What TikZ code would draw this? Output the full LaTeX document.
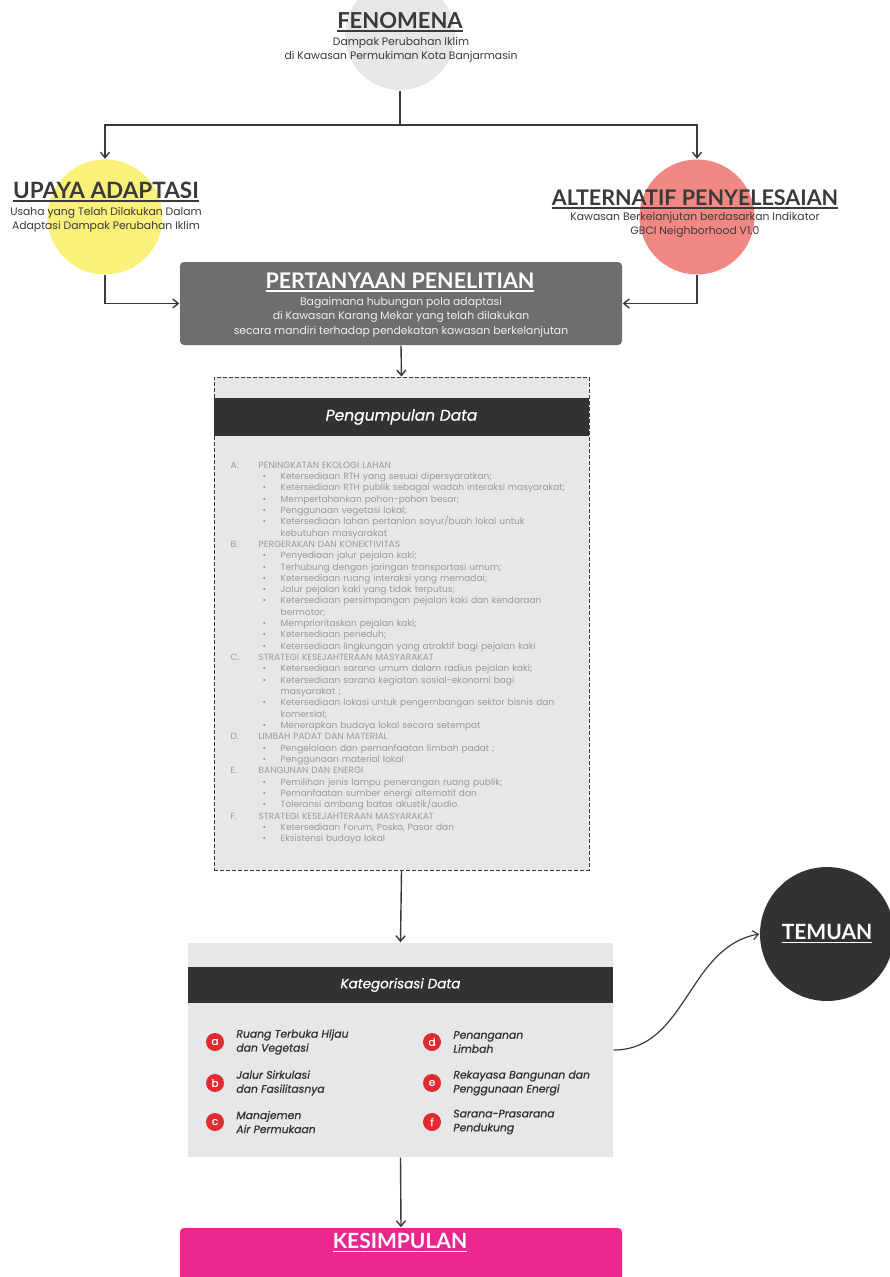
\documentclass[tikz,border=0pt]{standalone}
\usepackage{fontspec}
\setmainfont{Poppins}
\newfontfamily\headfont{Lato}
\newfontfamily\catfont{Poppins}[FakeBold=0.7]
\usetikzlibrary{arrows.meta,positioning}

\definecolor{ink}{HTML}{3A3A3A}
\definecolor{paper}{HTML}{E6E7E8}
\definecolor{slate}{HTML}{6D6E70}
\definecolor{coal}{HTML}{333132}
\definecolor{sun}{HTML}{FAF07A}
\definecolor{coral}{HTML}{F28884}
\definecolor{dotred}{HTML}{E52B32}
\definecolor{rose}{HTML}{EC268F}
\definecolor{fade}{HTML}{999999}

%% underlined headings
\newcommand{\uline}[1]{\setbox0\hbox{#1}\rlap{\rule[-3.5pt]{\wd0}{1.7pt}}\box0}
%% list entries
\newcommand{\grp}[2]{\par\noindent\hbox to 28pt{#1\hfill}#2}
\newcommand{\itm}[1]{\par\noindent\hangindent=50pt\hangafter=1\hspace*{32pt}\hbox to 18pt{\textbullet\hfill}#1}

\tikzset{
  head/.style={inner sep=0, font=\headfont\bfseries\fontsize{21.5}{24}\selectfont},
  subtext/.style={inner sep=0, align=center, font=\fontsize{10.8}{14.2}\selectfont},
  bubble/.style={circle, inner sep=0},
  band/.style={fill=coal, minimum width=#1, minimum height=38pt, inner sep=0,
    text=white, font=\catfont\itshape\fontsize{15.5}{17}\selectfont},
  tagdot/.style={circle, fill=dotred, minimum size=18pt, inner sep=0,
    text=white, font=\catfont\fontsize{10.5}{10}\selectfont},
  tagtext/.style={inner sep=0, align=left, text=ink!85!black,
    font=\catfont\itshape\fontsize{10.8}{14}\selectfont},
}

\begin{document}
\begin{tikzpicture}[x=1pt, y=-1pt, line width=1.4pt, ink,
    >={Straight Barb[length=5.5pt,width=9pt]}]
	\useasboundingbox (0,0) rectangle (890,1277);
	\clip (0,0) rectangle (890,1277);

	%% Fenomena
	\node [bubble, fill=paper, minimum size=110pt] (fen) at (400,35) {};
	\node [head, font=\headfont\bfseries\fontsize{22}{24}\selectfont] (fenT) at (400,22) {\uline{FENOMENA}};
	\node [subtext] (fenS) at (401,50) {Dampak Perubahan Iklim\\di Kawasan Permukiman Kota Banjarmasin};

	%% Upaya adaptasi & alternatif penyelesaian
	\node [bubble, fill=sun, minimum size=115pt] (ada) at (105,217) {};
	\node [head, font=\headfont\bfseries\fontsize{22.5}{24}\selectfont] (adaT) at (106,192) {\uline{UPAYA ADAPTASI}};
	\node [subtext] (adaS) at (106,220) {Usaha yang Telah Dilakukan Dalam\\Adaptasi Dampak Perubahan Iklim};

	\node [bubble, fill=coral, minimum size=115pt] (alt) at (697,217) {};
	\node [head] (altT) at (695,199) {\uline{ALTERNATIF PENYELESAIAN}};
	\node [subtext] (altS) at (695,225) {Kawasan Berkelanjutan berdasarkan Indikator\\GBCI Neighborhood V1.0};

	\coordinate (split) at (400,125);
	\draw (fen.south) -- (split);
	\draw [->] (split) -| (ada.north);
	\draw [->] (split) -| (alt.north);

	%% Pertanyaan penelitian
	\node [fill=slate, rounded corners=4pt, minimum width=442pt, minimum height=83pt] (q) at (401,303.5) {};
	\node [head, text=white] (qT) at (400,282) {\uline{PERTANYAAN PENELITIAN}};
	\node [subtext, text=white!88!slate, font=\fontsize{10.8}{14.5}\selectfont] (qS) at (401,317) {Bagaimana hubungan pola adaptasi\\di Kawasan Karang Mekar yang telah dilakukan\\secara mandiri terhadap pendekatan kawasan berkelanjutan};
	\draw [->] (ada.south) |- (q.west);
	\draw [->] (alt.south) |- (q.east);

	%% Pengumpulan data
	\node [draw=ink, line width=0.9pt, dash pattern=on 4pt off 2pt, fill=paper,
	  minimum width=375pt, minimum height=493pt] (pd) at (401.5,623.5) {};
	\node [band=375pt] (pdH) at (401.5,417) {Pengumpulan Data};
	\draw [->] (q.south) -- (pd.north);
	\node [anchor=north west, text width=356pt, inner sep=0, text=fade,
	  font=\fontsize{9}{11.33}\selectfont] (pdList) at (230,456) {\raggedright
	\grp{A.}{PENINGKATAN EKOLOGI LAHAN}
	\itm{Ketersediaan RTH yang sesuai dipersyaratkan;}
	\itm{Ketersediaan RTH publik sebagai wadah interaksi masyarakat;}
	\itm{Mempertahankan pohon-pohon besar;}
	\itm{Penggunaan vegetasi lokal;}
	\itm{Ketersediaan lahan pertanian sayur/buah lokal untuk\newline kebutuhan masyarakat}
	\grp{B.}{PERGERAKAN DAN KONEKTIVITAS}
	\itm{Penyediaan jalur pejalan kaki;}
	\itm{Terhubung dengan jaringan transportasi umum;}
	\itm{Ketersediaan ruang interaksi yang memadai;}
	\itm{Jalur pejalan kaki yang tidak terputus;}
	\itm{Ketersediaan persimpangan pejalan kaki dan kendaraan\newline bermotor;}
	\itm{Memprioritaskan pejalan kaki;}
	\itm{Ketersediaan peneduh;}
	\itm{Ketersediaan lingkungan yang atraktif bagi pejalan kaki}
	\grp{C.}{STRATEGI KESEJAHTERAAN MASYARAKAT}
	\itm{Ketersediaan sarana umum dalam radius pejalan kaki;}
	\itm{Ketersediaan sarana kegiatan sosial-ekonomi bagi\newline masyarakat ;}
	\itm{Ketersediaan lokasi untuk pengembangan sektor bisnis dan\newline komersial;}
	\itm{Menerapkan budaya lokal secara setempat}
	\grp{D.}{LIMBAH PADAT DAN MATERIAL}
	\itm{Pengelolaan dan pemanfaatan limbah padat ;}
	\itm{Penggunaan material lokal}
	\grp{E.}{BANGUNAN DAN ENERGI}
	\itm{Pemilihan jenis lampu penerangan ruang publik;}
	\itm{Pemanfaatan sumber energi alternatif dan}
	\itm{Toleransi ambang batas akustik/audio.}
	\grp{F.}{STRATEGI KESEJAHTERAAN MASYARAKAT}
	\itm{Ketersediaan Forum, Posko, Pasar dan}
	\itm{Eksistensi budaya lokal}\par};

	%% Kategorisasi data
	\node [fill=paper, minimum width=425pt, minimum height=214pt] (kd) at (400.5,1050) {};
	\node [band=425pt, minimum height=36pt, font=\catfont\itshape\fontsize{13.5}{15}\selectfont] (kdH) at (400.5,985) {Kategorisasi Data};
	\draw [->] (pd.south) -- (kd.north);
	\foreach \tag/\px/\py/\txt in {
	    a/215/1042/{Ruang Terbuka Hijau\\dan Vegetasi},
	    b/215/1083/{Jalur Sirkulasi\\dan Fasilitasnya},
	    c/215/1122/{Manajemen\\Air Permukaan},
	    d/432/1042/{Penanganan\\Limbah},
	    e/432/1083/{Rekayasa Bangunan dan\\Penggunaan Energi},
	    f/432/1122/{Sarana-Prasarana\\Pendukung}} {
		\node [tagdot] (tag\tag) at (\px,\py) {\tag};
		\node [tagtext, right=11pt of tag\tag] (item\tag) {\txt};
	}

	%% Temuan
	\node [bubble, fill=coal, minimum size=134pt, text=white,
	  font=\headfont\bfseries\fontsize{21}{24}\selectfont] (tm) at (827,934) {\uline{TEMUAN}};
	\draw [->, line width=1.2pt] (kd.east) to [out=0, in=190] (tm.west);

	%% Kesimpulan
	\node [fill=rose, rounded corners=4pt, minimum width=442pt, minimum height=90pt] (ks) at (401,1273) {};
	\node [head, text=white, font=\headfont\bfseries\fontsize{21}{24}\selectfont] (ksT) at (400,1243) {\uline{KESIMPULAN}};
	\draw [->] (kd.south) -- (ks.north);
\end{tikzpicture}
\end{document}
